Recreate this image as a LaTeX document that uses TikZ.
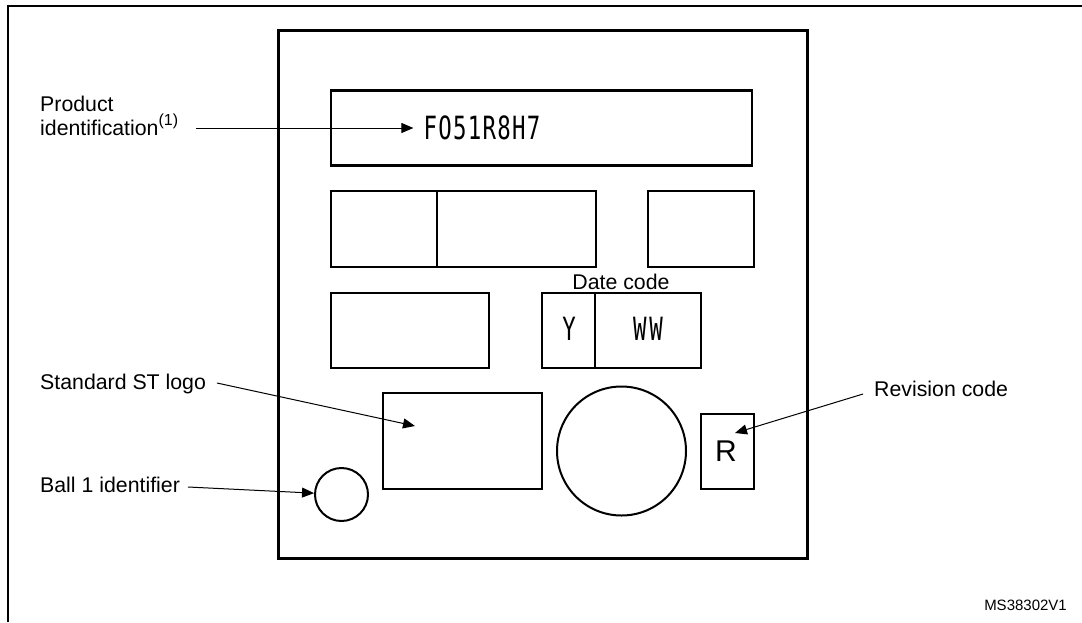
\documentclass[tikz,border=0pt]{standalone}
\usepackage{fontspec}
\setmainfont{Liberation Sans}
\newfontfamily\chipfont[FakeStretch=0.7,LetterSpace=4]{DejaVu Sans Mono}
\usetikzlibrary{arrows.meta}
\begin{document}
\begin{tikzpicture}[x=1pt,y=-1pt,
  framel/.style={line width=2pt},
  pkg/.style={draw,line width=3pt,inner sep=0pt},
  box/.style={draw,line width=2.2pt,inner sep=0pt},
  ring/.style={draw,circle,line width=2pt,inner sep=0pt},
  lbl/.style={inner sep=0pt,font=\fontsize{21.3}{24}\selectfont},
  chip/.style={inner sep=0pt,font=\chipfont\fontsize{32}{32}\selectfont},
  revf/.style={inner sep=0pt,font=\fontsize{30}{30}\selectfont},
  arr/.style={line width=1pt,-{Triangle[length=12pt,width=10pt]}},
  note/.style={inner sep=0pt,font=\fontsize{15}{18}\selectfont}]
\useasboundingbox (0,0) rectangle (1082,622);
% outer frame
\coordinate (fa) at (8,622);
\coordinate (fb) at (8,6);
\coordinate (fc) at (1082,6);
\draw[framel] (fa) -- (fb) -- (fc);
% package
\node[pkg,minimum width=529pt,minimum height=528pt] (pkg) at (542.5,294) {};
% product identification box
\node[box,minimum width=421pt,minimum height=75pt] (pid) at (541.5,128) {};
\node[chip] (pidtxt) at (482,128) {FO51R8H7};
% row 2
\node[box,minimum width=106pt,minimum height=76pt] (r2a) at (384,229) {};
\node[box,minimum width=159pt,minimum height=76pt] (r2b) at (516.5,229) {};
\node[box,minimum width=106pt,minimum height=76pt] (r2c) at (701,229) {};
% row 3
\node[box,minimum width=158pt,minimum height=75pt] (r3a) at (410,330.5) {};
\node[box,minimum width=53pt,minimum height=75pt] (dy) at (568.5,330.5) {};
\node[box,minimum width=106pt,minimum height=75pt] (dw) at (648,330.5) {};
\node[chip] (ytxt) at (569,329) {Y};
\node[chip] (wtxt) at (648,329) {W\kern3ptW};
\node[lbl,anchor=base] (dlbl) at (621,289.5) {Date code};
% row 4
\node[box,minimum width=159pt,minimum height=96pt] (logo) at (462.5,441) {};
\node[ring,minimum size=129pt] (big) at (621.5,451) {};
\node[box,minimum width=53pt,minimum height=75pt] (rbox) at (727.5,451.5) {};
\node[revf] (rtxt) at (726,451) {R};
\node[ring,minimum size=53pt] (ball) at (341.5,494.5) {};
% labels
\node[lbl,anchor=base west] (plbl) at (40,111) {Product};
\node[lbl,anchor=base west] (plbl2) at (40,135) {identification\raisebox{10pt}{\fontsize{16}{16}\selectfont (1)}};
\node[lbl,anchor=base west] (slbl) at (40,389.5) {Standard ST logo};
\node[lbl,anchor=base west] (blbl) at (40,492.5) {Ball 1 identifier};
\node[lbl,anchor=base west] (rlbl) at (874,396.5) {Revision code};
\node[note,anchor=base east] (ms) at (1067,610) {MS38302V1};
% arrows
\coordinate (pa) at (196,128);
\coordinate (sa) at (217,383);
\coordinate (st) at (415,426);
\coordinate (ba) at (188,487);
\coordinate (ra) at (863,394);
\coordinate (rt) at (735,433);
\draw[arr] (pa) -- ([xshift=-10pt]pidtxt.west);
\draw[arr] (sa) -- (st);
\draw[arr] (ba) -- (ball);
\draw[arr] (ra) -- (rt);
\end{tikzpicture}
\end{document}
